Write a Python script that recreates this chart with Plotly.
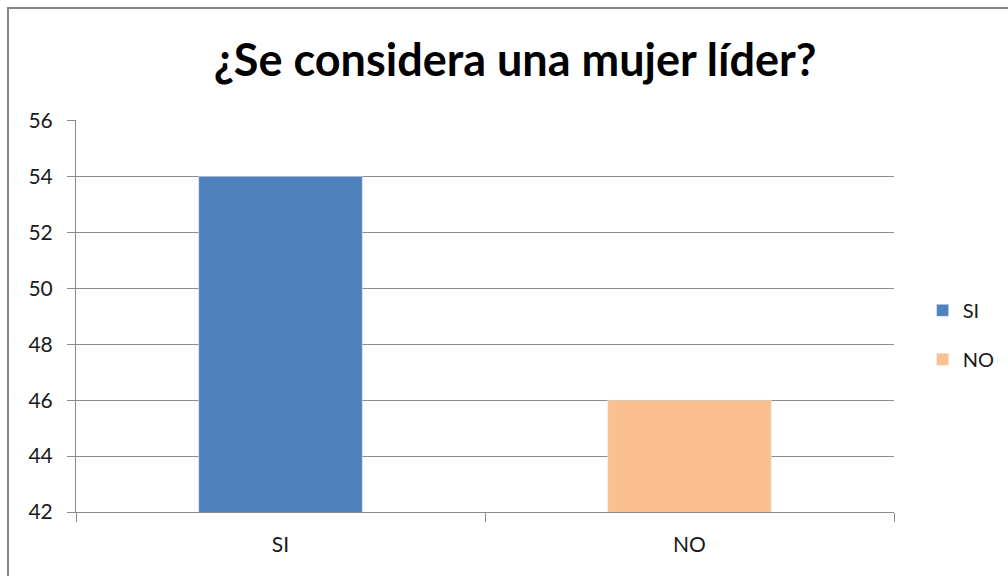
import plotly.graph_objs as go

categories = ["SI", "NO"]
values = [54, 46]
colors = ["#4F81BD", "#FAC090"]
y_ticks = [42, 44, 46, 48, 50, 52, 54, 56]

font_name = "Lato, Open Sans, sans-serif"
grid_grey = "#8C8C8C"

fig = go.Figure()
for cat, val, col in zip(categories, values, colors):
    fig.add_trace(go.Bar(x=[cat], y=[val], name=cat, marker_color=col,
                         width=0.4, legendgroup=cat))

fig.update_layout(
    width=1008, height=576,
    margin=dict(l=76, r=114, t=120, b=64, autoexpand=False),
    paper_bgcolor="white", plot_bgcolor="white",
    barmode="overlay",
    font=dict(family=font_name, size=21, color="#1a1a1a"),
    title=dict(text="<b>¿Se considera una mujer líder?</b>", x=0.511, xanchor="center",
               y=0.896, yanchor="middle", font=dict(size=45, color="black")),
    legend=dict(x=1.035, xanchor="left", y=0.452, yanchor="middle",
                traceorder="grouped", tracegroupgap=20,
                font=dict(size=20), itemwidth=30),
    showlegend=True,
)

fig.update_yaxes(range=[42, 56.02], tickvals=y_ticks, showgrid=True, gridcolor=grid_grey,
                 gridwidth=1, showline=True, linecolor=grid_grey, ticks="outside",
                 ticklen=8, tickcolor=grid_grey, zeroline=False, ticklabelstandoff=10)
fig.update_xaxes(categoryorder="array", categoryarray=categories, showline=True,
                 linecolor=grid_grey, ticks="outside", tickson="boundaries",
                 ticklen=9, tickcolor=grid_grey, mirror=False, ticklabelstandoff=14)

# chart border like the Excel chart frame
fig.add_shape(type="rect", xref="paper", yref="paper",
              x0=(8 - 76) / 818, x1=(1030 - 76) / 818,
              y0=-0.3, y1=(512 - 8) / 392,
              line=dict(color="#868686", width=2), fillcolor="rgba(0,0,0,0)")

fig.write_html("out.html", config={"displayModeBar": False},
               post_script="document.body.style.margin='0';document.body.style.overflow='hidden';")
